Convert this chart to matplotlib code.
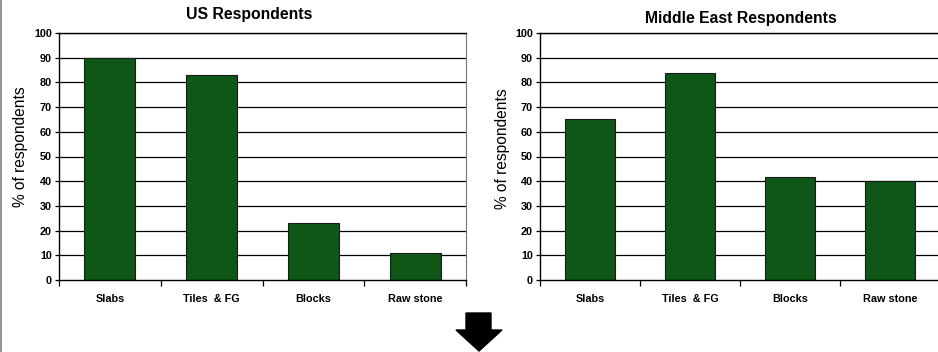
import matplotlib
matplotlib.use("Agg")
import matplotlib.pyplot as plt
from matplotlib.patches import Polygon
from matplotlib.lines import Line2D
import numpy as np

plt.rcParams['font.family'] = ['Liberation Sans', 'DejaVu Sans']

categories = ["Slabs", "Tiles  & FG", "Blocks", "Raw stone"]
us_values = [90, 83, 23, 11]
me_values = [65, 84, 41.5, 40]
titles = ["US Respondents", "Middle East Respondents"]
y_ticks = list(range(0, 101, 10))

W, H = 938, 352
fig = plt.figure(figsize=(W / 100, H / 100), dpi=100)

bar_color = "#0e5716"


def px_axes(x0, y0, x1, y1):
    return fig.add_axes([x0 / W, 1 - y1 / H, (x1 - x0) / W, (y1 - y0) / H])


def draw_panel(ax, values, title, title_x, title_y, show_right, label_y):
    x = np.arange(len(categories))
    ax.set_xlim(-0.5, len(categories) - 0.5)
    ax.set_ylim(0, 100)
    for t in y_ticks[1:]:
        ax.axhline(t, color="black", lw=0.9, zorder=1)
    ax.bar(x, values, width=0.5, color=bar_color, edgecolor="#1a1a1a",
           linewidth=0.8, zorder=2)
    ax.set_yticks(y_ticks)
    ax.set_yticklabels([str(t) for t in y_ticks], fontsize=7.8, fontweight="bold")
    ax.set_xticks(x)
    ax.set_xticklabels(categories, fontsize=7.8, fontweight="bold")
    ax.set_xticks(np.arange(-0.5, len(categories)), minor=True)
    ax.tick_params(axis="x", which="major", length=0, pad=10)
    ax.tick_params(axis="x", which="minor", length=4, width=0.9, direction="out")
    ax.tick_params(axis="y", length=3, width=0.9, pad=2)
    ax.set_ylabel("% of respondents", fontsize=11.2)
    ax.yaxis.set_label_coords(-0.076, label_y)
    for side in ["left", "bottom", "top"]:
        ax.spines[side].set_linewidth(1.0)
        ax.spines[side].set_color("black")
    ax.spines["right"].set_visible(show_right)
    ax.spines["right"].set_color("#777777")
    fig.text(title_x / W, 1 - title_y / H, title, ha="center", va="center",
             fontsize=11.3, fontweight="bold")


ax1 = px_axes(59, 33, 466, 280)
draw_panel(ax1, us_values, titles[0], 249, 15, True, 0.54)

ax2 = px_axes(540, 33, 940, 280)
draw_panel(ax2, me_values, titles[1], 741, 18, False, 0.53)

# thin grey frame line along the left edge
fig.add_artist(Line2D([1.0 / W, 1.0 / W], [0, 1], transform=fig.transFigure,
                      color="#808080", lw=1.2))

# downward arrow below the charts
arrow_px = [(466, 313), (491, 313), (491, 330), (502, 330), (479, 351),
            (456, 330), (466, 330)]
arrow = Polygon([(px / W, 1 - py / H) for px, py in arrow_px], closed=True,
                transform=fig.transFigure, facecolor="black", edgecolor="black")
fig.add_artist(arrow)

fig.savefig("out.png", dpi=100)
